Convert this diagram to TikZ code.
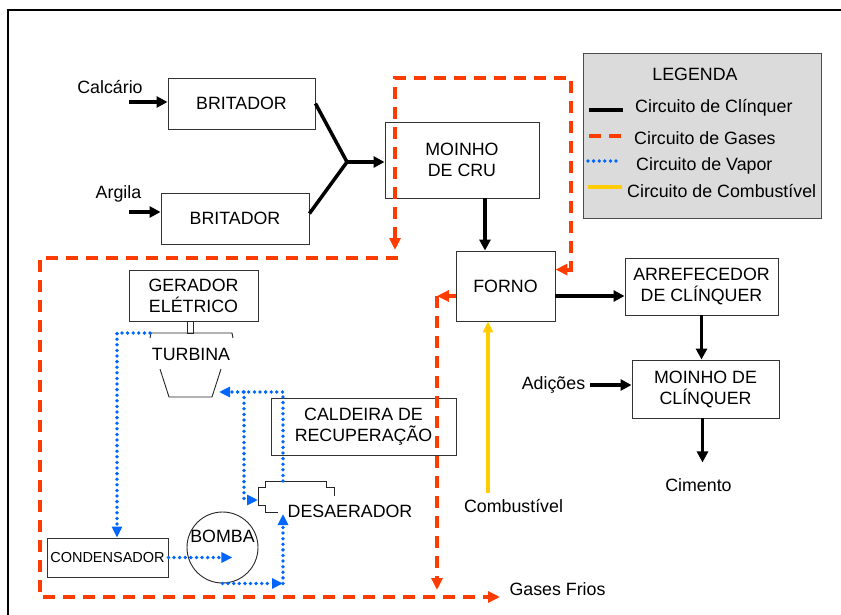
\documentclass[tikz,border=0pt]{standalone}
\usepackage{fontspec}
\setmainfont{Liberation Sans}
\usetikzlibrary{arrows.meta}
\definecolor{gascol}{RGB}{255,60,0}
\definecolor{vapcol}{RGB}{0,102,255}
\definecolor{fuelcol}{RGB}{255,204,0}
\tikzset{
  unitbox/.style={draw=black!80, line width=0.9pt, align=center, inner sep=0pt, font=\fontsize{17.8}{21}\selectfont},
  freelabel/.style={inner sep=0pt, font=\fontsize{17.8}{21}\selectfont},
  part/.style={draw=black!85, line width=0.9pt},
  clqline/.style={line width=3.5pt, draw=black, >={Triangle[length=11pt,width=11pt]}},
  gasline/.style={line width=4pt, draw=gascol, dash pattern=on 12pt off 8pt, >={Triangle[length=12pt,width=11pt]}},
  vapline/.style={line width=3.8pt, draw=vapcol, line cap=round, dash pattern=on 0pt off 5.6pt, >={Triangle[length=11pt,width=10pt]}},
  fuelline/.style={line width=3.2pt, draw=fuelcol, >={Triangle[length=11pt,width=10pt]}},
}

\begin{document}
\begin{tikzpicture}[x=1pt,y=-1pt]
\useasboundingbox (0,0) rectangle (841,615);
\draw[line width=1.5pt] (8,615) -- (8,10) -- (841,10);

% legenda
\node[draw=black!70, fill=black!14, line width=0.9pt, minimum width=238pt, minimum height=165pt, inner sep=0pt] (legenda) at (702,135.5) {};
\node[freelabel, anchor=base] (legtit) at (695,81) {LEGENDA};
\node[freelabel, anchor=base west] (legclq) at (635,113) {Circuito de Clínquer};
\node[freelabel, anchor=base west] (leggas) at (634,145) {Circuito de Gases};
\node[freelabel, anchor=base west] (legvap) at (636,171) {Circuito de Vapor};
\node[freelabel, anchor=base west] (legfuel) at (627,197) {Circuito de Combustível};
\draw[clqline] ([xshift=-46pt,yshift=3pt]legclq.base west) -- ++(34,0);
\draw[gasline] ([xshift=-45pt,yshift=9pt]leggas.base west) -- ++(34,0);
\draw[vapline] ([xshift=-48pt,yshift=10pt]legvap.base west) -- ++(31,0);
\draw[fuelline] ([xshift=-39pt,yshift=10pt]legfuel.base west) -- ++(34,0);

% circuito de clinquer
\node[unitbox, minimum width=147pt, minimum height=51pt] (britcal) at (241.5,103.5) {BRITADOR};
\node[unitbox, minimum width=148pt, minimum height=51pt] (britarg) at (235,218.5) {BRITADOR};
\node[unitbox, minimum width=154pt, minimum height=76pt] (moinhocru) at (462,160) {MOINHO\\DE CRU};
\node[unitbox, minimum width=99pt, minimum height=70pt] (forno) at (505.5,286) {FORNO};
\node[unitbox, minimum width=153pt, minimum height=57pt] (arref) at (701.5,286.5) {ARREFECEDOR\\DE CLÍNQUER};
\node[unitbox, minimum width=147pt, minimum height=58pt] (moinhocli) at (705.5,389) {MOINHO DE\\CLÍNQUER};
\node[freelabel, anchor=base] (calcario) at (110,94) {Calcário};
\node[freelabel, anchor=base] (argila) at (118.5,198) {Argila};
\node[freelabel, anchor=base] (adicoes) at (553.5,389) {Adições};
\node[freelabel, anchor=base] (cimento) at (698.5,491) {Cimento};
\node[freelabel, anchor=base] (combust) at (513.5,512) {Combustível};
\node[freelabel, anchor=base] (gasesfrios) at (557.5,595) {Gases Frios};

\coordinate (calin) at (129,102);
\coordinate (argin) at (129,212);
\coordinate (junc) at (347,162);
\coordinate (adin) at (590,385);
\coordinate (fuelin) at (488,493);
\draw[clqline,->] (calin) -- (calin -| britcal.west);
\draw[clqline,->] (argin) -- (argin -| britarg.west);
\draw[clqline] (britcal.east) -- (junc);
\draw[clqline] ([yshift=5pt]britarg.east) -- (junc);
\draw[clqline,->] (junc) -- (junc -| moinhocru.west);
\draw[clqline,->] ([xshift=23pt]moinhocru.south) -- ([xshift=23pt]moinhocru.south |- forno.north);
\draw[clqline,->] ([yshift=-10pt]forno.east) -- ([yshift=-10pt]forno.east -| arref.west);
\draw[clqline,->] (arref.south) -- (arref.south |- moinhocli.north);
\draw[clqline,->] (adin) -- (adin -| moinhocli.west);
\draw[clqline,->] ([xshift=-3pt]moinhocli.south) -- ++(0,44);
\draw[fuelline,->] (fuelin) -- (fuelin |- forno.south);

% ciclo de vapor
\node[unitbox, minimum width=129pt, minimum height=51pt] (gerador) at (193.5,295.5) {GERADOR\\ELÉTRICO};
\node[unitbox, minimum width=185pt, minimum height=57pt] (caldeira) at (363.5,426.5) {CALDEIRA DE\\RECUPERAÇÃO};
\node[unitbox, minimum width=121pt, minimum height=39pt, font=\fontsize{14.5}{17}\selectfont] (condens) at (107.5,557.5) {CONDENSADOR};
\node[part, circle, minimum size=71pt, inner sep=0pt] (bomba) at (222.5,547.5) {};
\node[freelabel, anchor=base] (bombalbl) at (222.5,542) {BOMBA};
\node[freelabel, anchor=base] (turbina) at (191,360.5) {TURBINA};
\node[freelabel, anchor=base] (desaer) at (350,517) {DESAERADOR};
\draw[part] (187,321) rectangle (193,333);
\draw[part] (150,338) -- (151,333) -- (232,333) -- (233,338);
\draw[part] (160,369) -- (169,397) -- (212,397) -- (221,369);
\draw[part] (277.7,512.7) -- (265.7,512.7) -- (265.7,505) -- (258,505) -- (258,487) -- (265.7,487)
  -- (265.7,481) -- (326,481) -- (326,487) -- (334,487) -- (334,496);

\coordinate (turbout) at (150,333);
\coordinate (turbin) at (219,392);
\coordinate (destop) at (283,481);
\coordinate (desbot) at (283,514);
\coordinate (desin) at (258,500);
\coordinate (vapbr) at (244,392);
\draw[vapline,->] (turbout) -| ([xshift=9.5pt]condens.north);
\draw[vapline,->] (condens.east) -- ++(64,0);
\draw[vapline,->] (bomba.south) -- (bomba.south -| desbot);
\draw[vapline,->] (bomba.south -| desbot) -- (desbot);
\draw[vapline,->] (destop) |- (turbin);
\draw[vapline,->] (vapbr) |- (desin);

% circuito de gases
\coordinate (gasA) at (395,250);
\coordinate (gastr) at (571,78);
\coordinate (gasB) at (398,258);
\coordinate (gasC) at (437,296);
\coordinate (gasout) at (500,597);
\draw[gasline,<->] (gasA) |- (gastr) |- ([yshift=-19pt]forno.north east);
\draw[gasline,->] (gasB) -- ++(-358,0) |- (gasout);
\draw[gasline,->] ([yshift=-10pt]forno.west) -- (gasC);
\draw[gasline,->] (gasC) -- ++(0,294);
\end{tikzpicture}
\end{document}
